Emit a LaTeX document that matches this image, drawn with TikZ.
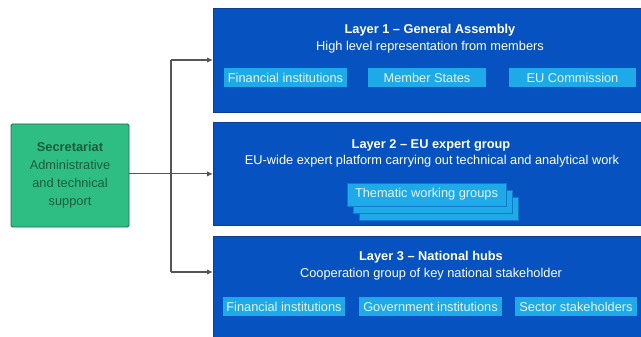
\documentclass[tikz,border=0pt]{standalone}
\usepackage{fontspec}
\setmainfont{Liberation Sans}
\usetikzlibrary{arrows.meta}
\definecolor{layerblue}{RGB}{6,82,192}
\definecolor{layeredge}{RGB}{12,62,145}
\definecolor{pillblue}{RGB}{30,170,232}
\definecolor{pilledge}{RGB}{20,120,205}
\definecolor{pilltext}{RGB}{228,243,255}
\definecolor{secgreen}{RGB}{46,190,132}
\definecolor{secedge}{RGB}{32,110,72}
\definecolor{sectext}{RGB}{28,92,60}
\definecolor{linegray}{RGB}{85,85,85}
\begin{document}
\begin{tikzpicture}[x=1pt,y=-1pt,
  every node/.style={font=\fontsize{12.8}{16}\selectfont},
  layerbox/.style={draw=layeredge, line width=0.8pt, fill=layerblue, anchor=north west, inner sep=0pt, minimum width=428pt},
  headtext/.style={text=white, inner sep=0pt},
  pill/.style={fill=pillblue, text=pilltext, inner sep=0pt, minimum height=19pt},
  stackpill/.style={fill=pillblue, draw=pilledge, line width=0.6pt, text=pilltext, inner sep=0pt, minimum width=159pt, minimum height=23pt},
  secbox/.style={fill=secgreen, draw=secedge, line width=0.8pt, rounded corners=1.5pt, minimum width=118pt, minimum height=103pt, inner sep=0pt, align=center, text=sectext, font=\fontsize{12.8}{18}\selectfont},
  conn/.style={draw=linegray, line width=1.1pt},
  arr/.style={conn, -{Latex[length=6pt,width=5.5pt]}}
]
\useasboundingbox (0,0) rectangle (641,337);

% layer boxes
\node[layerbox, minimum height=104pt] (L1) at (213,8) {};
\node[layerbox, minimum height=103pt] (L2) at (213,122) {};
\node[layerbox, minimum height=101pt] (L3) at (213,236) {};

% layer 1
\node[headtext] (t1) at (430,30) {\textbf{Layer 1 – General Assembly}};
\node[headtext] (s1) at (430,47) {High level representation from members};
\node[pill, minimum width=123pt] (p11) at (285.5,77.5) {Financial institutions};
\node[pill, minimum width=118pt] (p12) at (427,77.5) {Member States};
\node[pill, minimum width=127pt] (p13) at (572.5,77.5) {EU Commission};

% layer 2
\node[headtext] (t2) at (431,145) {\textbf{Layer 2 – EU expert group}};
\node[headtext] (s2) at (432,161) {EU-wide expert platform carrying out technical and analytical work};
\node[stackpill] (tw3) at (438.5,208.5) {};
\node[stackpill] (tw2) at (432.5,201.5) {};
\node[stackpill] (tw1) at (426.5,194.5) {Thematic working groups};

% layer 3
\node[headtext] (t3) at (431,257) {\textbf{Layer 3 – National hubs}};
\node[headtext] (s3) at (431,274) {Cooperation group of key national stakeholder};
\node[pill, minimum width=122pt] (p31) at (284,306.5) {Financial institutions};
\node[pill, minimum width=143pt] (p32) at (430.5,306.5) {Government institutions};
\node[pill, minimum width=122pt] (p33) at (576,306.5) {Sector stakeholders};

% secretariat
\node[secbox] (sec) at (70,175.5) {\textbf{Secretariat}\\Administrative\\and technical\\support};

% connectors
\coordinate (top) at (171,60);
\coordinate (bot) at (171,272);
\draw[conn] (top) -- (bot);
\draw[arr] (top) -- (top -| L1.west);
\draw[arr] (sec.east |- L2.west) -- (L2.west);
\draw[arr] (bot) -- (bot -| L3.west);
\end{tikzpicture}
\end{document}
